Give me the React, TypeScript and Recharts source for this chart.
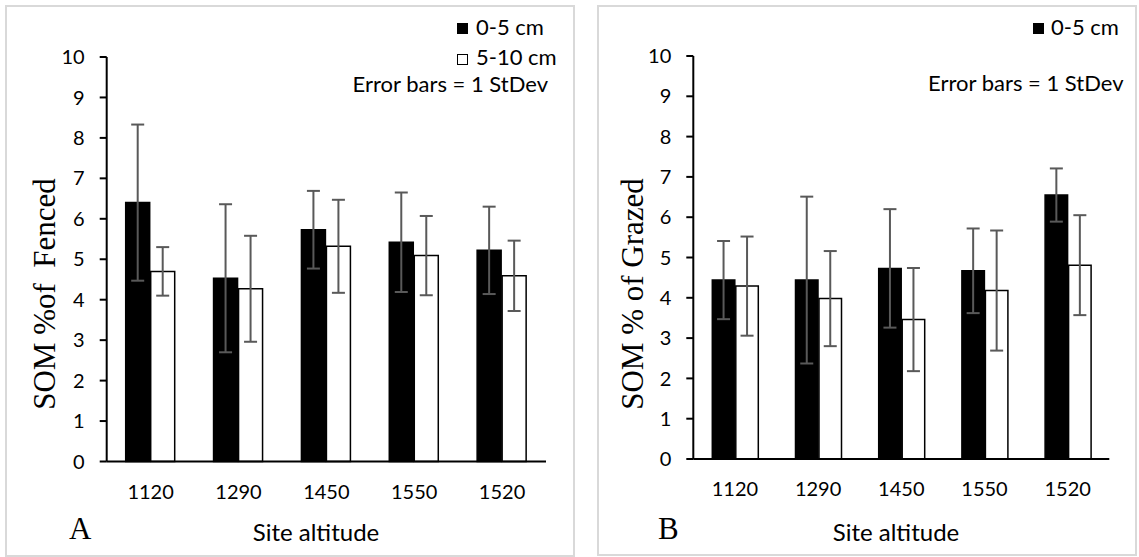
import { BarChart, Bar, XAxis, YAxis, ErrorBar } from 'recharts'

// site altitude (m) along the x axis
const sites = ['1120', '1290', '1450', '1550', '1520']
const yTicks = [0, 1, 2, 3, 4, 5, 6, 7, 8, 9, 10]

// panel A: fenced plots, SOM % and 1 StDev
const fencedTop = [6.4, 4.53, 5.73, 5.42, 5.22]
const fencedTopSd = [1.93, 1.83, 0.96, 1.23, 1.08]
const fencedSub = [4.7, 4.27, 5.32, 5.09, 4.59]
const fencedSubSd = [0.6, 1.31, 1.15, 0.98, 0.87]

// panel B: grazed plots
const grazedTop = [4.44, 4.44, 4.73, 4.67, 6.55]
const grazedTopSd = [0.97, 2.07, 1.47, 1.05, 0.66]
const grazedSub = [4.29, 3.98, 3.46, 4.18, 4.81]
const grazedSubSd = [1.23, 1.18, 1.28, 1.49, 1.24]

const SANS = 'Lato, "Open Sans", sans-serif'
const SERIF = '"Liberation Serif", "DejaVu Serif", serif'
const ERR = '#595959'

const rows = (top: number[], topSd: number[], sub: number[], subSd: number[]) =>
  sites.map((site, i) => ({ site, top: top[i], topSd: topSd[i], sub: sub[i], subSd: subSd[i] }))

interface PanelProps {
  data: ReturnType<typeof rows>
  left: number
  width: number
  margin: { top: number; right: number; bottom: number; left: number }
  barSize: number
}

function Panel({ data, left, width, margin, barSize }: PanelProps) {
  return (
    <div style={{ position: 'absolute', left, top: 0 }}>
      <BarChart width={width} height={557} data={data} margin={margin} barSize={barSize} barGap={1}>
        <XAxis dataKey="site" tickLine={false} tickSize={0} tickMargin={23} height={40}
          axisLine={{ stroke: '#000', strokeWidth: 2 }}
          tick={{ fill: '#000', fontSize: 20, fontFamily: SANS }} />
        <YAxis domain={[0, 10]} ticks={yTicks} interval={0} width={60} tickSize={7} tickMargin={15}
          axisLine={{ stroke: '#000', strokeWidth: 2 }} tickLine={{ stroke: '#000', strokeWidth: 2 }}
          tick={{ fill: '#000', fontSize: 20, fontFamily: SANS }} />
        <Bar dataKey="top" fill="#000" stroke="#000" strokeWidth={1.5} isAnimationActive={false}>
          <ErrorBar dataKey="topSd" direction="y" width={6.5} stroke={ERR} strokeWidth={2} />
        </Bar>
        <Bar dataKey="sub" fill="#fff" stroke="#000" strokeWidth={1.5} isAnimationActive={false}>
          <ErrorBar dataKey="subSd" direction="y" width={6.5} stroke={ERR} strokeWidth={2} />
        </Bar>
      </BarChart>
    </div>
  )
}

const txt = (left: number, top: number, size: number, family: string, text: string) => (
  <div style={{ position: 'absolute', left, top, fontSize: size, fontFamily: family, lineHeight: 1, whiteSpace: 'pre', color: '#000' }}>
    {text}
  </div>
)

const rightTxt = (right: number, top: number, text: string) => (
  <div style={{ position: 'absolute', right: 1139 - right, top, fontSize: 22, fontFamily: SANS, lineHeight: 1, whiteSpace: 'pre' }}>
    {text}
  </div>
)

const centerTxt = (cx: number, top: number, text: string) => (
  <div style={{ position: 'absolute', left: cx, top, transform: 'translateX(-50%)', fontSize: 24, fontFamily: SANS, lineHeight: 1, whiteSpace: 'pre' }}>
    {text}
  </div>
)

const swatch = (left: number, top: number, filled: boolean) => (
  <div style={{ position: 'absolute', left, top, width: 11, height: 11, boxSizing: 'border-box',
    background: filled ? '#000' : '#fff', border: '1.5px solid #000' }} />
)

const yLabel = (cx: number, cy: number, text: string) => (
  <div style={{ position: 'absolute', left: cx, top: cy, fontSize: 31, fontFamily: SERIF, lineHeight: 1,
    whiteSpace: 'pre', transform: 'translate(-50%, -50%) rotate(-90deg)' }}>
    {text}
  </div>
)

export default function App() {
  const fenced = rows(fencedTop, fencedTopSd, fencedSub, fencedSubSd)
  const grazed = rows(grazedTop, grazedTopSd, grazedSub, grazedSubSd)
  return (
    <div style={{ position: 'absolute', left: 0, top: 0, width: 1139, height: 557, background: '#fff', overflow: 'hidden' }}>
      <div style={{ position: 'absolute', left: 5, top: 5, width: 570, height: 552, border: '2px solid #d9d9d9', boxSizing: 'border-box' }} />
      <div style={{ position: 'absolute', left: 597, top: 5, width: 540, height: 551, border: '2px solid #d9d9d9', boxSizing: 'border-box' }} />

      <Panel data={fenced} left={0} width={570} barSize={24}
        margin={{ top: 57, right: 24, bottom: 55.5, left: 46.7 }} />
      <Panel data={grazed} left={580} width={559} barSize={22.5}
        margin={{ top: 56, right: 29.7, bottom: 58, left: 53.3 }} />

      {yLabel(44, 294, 'SOM %of  Fenced')}
      {yLabel(632, 294, 'SOM % of Grazed')}

      {swatch(457, 23, true)}
      {txt(476, 16, 22, SANS, '0-5 cm')}
      {swatch(457, 54, false)}
      {txt(476, 46, 22, SANS, '5-10 cm')}
      {rightTxt(548, 73, 'Error bars = 1 StDev')}

      {swatch(1033, 23, true)}
      {txt(1051, 16, 22, SANS, '0-5 cm')}
      {rightTxt(1123.5, 72, 'Error bars = 1 StDev')}

      {txt(69, 513, 31, SERIF, 'A')}
      {txt(658, 513, 31, SERIF, 'B')}
      {centerTxt(316, 520, 'Site altitude')}
      {centerTxt(896, 520, 'Site altitude')}
    </div>
  )
}
